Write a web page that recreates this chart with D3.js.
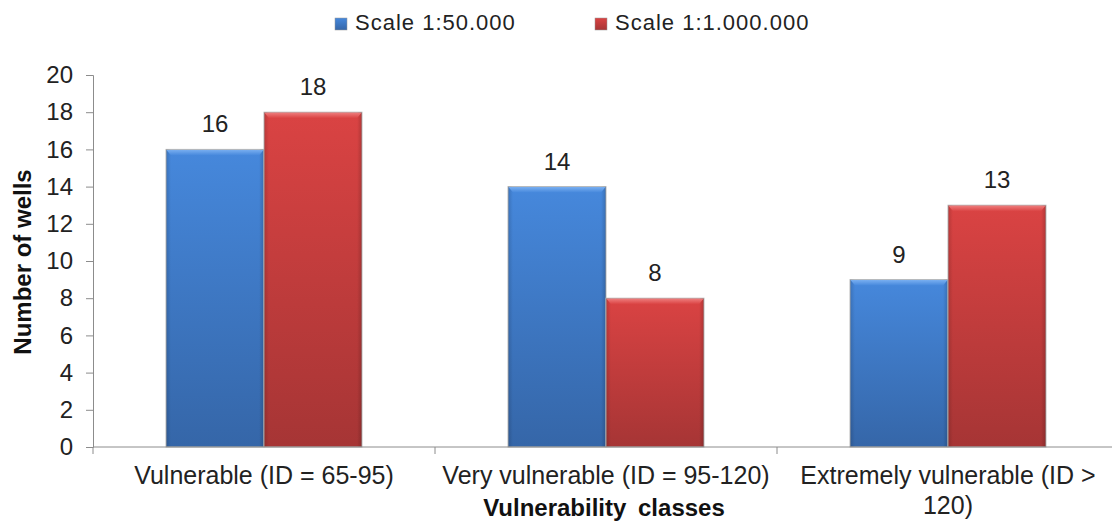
<!DOCTYPE html>
<html>
<head>
<meta charset="utf-8">
<script src="https://cdn.jsdelivr.net/npm/d3@7"></script>
<style>
  body { margin: 0; background: #fff; }
  svg { display: block; font-family: "Liberation Sans", Arial, sans-serif; }
</style>
</head>
<body>
<svg width="1112" height="522"></svg>
<script>
// data
const categories = ["Vulnerable (ID = 65-95)", "Very vulnerable (ID = 95-120)", "Extremely vulnerable (ID > 120)"];
const seriesNames = ["Scale 1:50.000", "Scale 1:1.000.000"];
const scale50k = [16, 14, 9];
const scale1m = [18, 8, 13];
const yTicks = [0, 2, 4, 6, 8, 10, 12, 14, 16, 18, 20];

const svg = d3.select("svg");
const plotLeft = 93, plotRight = 1119, plotTop = 75, plotBottom = 447;

const x = d3.scaleBand().domain(categories).range([plotLeft, plotRight]).paddingInner(0.427).paddingOuter(0.2135);
const sub = d3.scaleBand().domain(seriesNames).range([0, x.bandwidth()]);
const y = d3.scaleLinear().domain([0, 20]).range([plotBottom, plotTop]);

// gradients
const defs = svg.append("defs");
const palette = [
    { id: "g0", top: "#4688dc", bot: "#3566a8", hi: "#78aef0" },
    { id: "g1", top: "#da4343", bot: "#a63535", hi: "#ee7c7c" }
];
palette.forEach(function (p) {
    const g = defs.append("linearGradient").attr("id", p.id).attr("x1", 0).attr("y1", 0).attr("x2", 0).attr("y2", 1);
    g.append("stop").attr("offset", "0%").attr("stop-color", p.top);
    g.append("stop").attr("offset", "100%").attr("stop-color", p.bot);
    const h = defs.append("linearGradient").attr("id", p.id + "h").attr("x1", 0).attr("y1", 0).attr("x2", 0).attr("y2", 1);
    h.append("stop").attr("offset", "0%").attr("stop-color", p.hi);
    h.append("stop").attr("offset", "100%").attr("stop-color", p.top);
});
const side = defs.append("linearGradient").attr("id", "side").attr("x1", 0).attr("y1", 0).attr("x2", 1).attr("y2", 0);
side.append("stop").attr("offset", "0%").attr("stop-color", "#000").attr("stop-opacity", 0.15);
side.append("stop").attr("offset", "5%").attr("stop-color", "#000").attr("stop-opacity", 0);
side.append("stop").attr("offset", "95%").attr("stop-color", "#000").attr("stop-opacity", 0);
side.append("stop").attr("offset", "100%").attr("stop-color", "#000").attr("stop-opacity", 0.18);

const rows = [];
categories.forEach(function (c, i) {
    rows.push({ cat: c, s: 0, v: scale50k[i] });
    rows.push({ cat: c, s: 1, v: scale1m[i] });
});

// bars
const bar = svg.append("g").selectAll("g").data(rows).enter().append("g");
bar.append("rect")
    .attr("x", d => x(d.cat) + sub(seriesNames[d.s]))
    .attr("y", d => y(d.v))
    .attr("width", sub.bandwidth())
    .attr("height", d => plotBottom - y(d.v))
    .attr("fill", d => "url(#g" + d.s + ")")
    .attr("stroke", "#b8b8b8")
    .attr("stroke-width", 1);
bar.append("rect")
    .attr("x", d => x(d.cat) + sub(seriesNames[d.s]))
    .attr("y", d => y(d.v))
    .attr("width", sub.bandwidth())
    .attr("height", d => plotBottom - y(d.v))
    .attr("fill", "url(#side)");
bar.append("polygon")
    .attr("points", function (d) {
        const x0 = x(d.cat) + sub(seriesNames[d.s]), x1 = x0 + sub.bandwidth(), y0 = y(d.v);
        return [[x0 + 0.5, y0 + 0.5], [x1 - 0.5, y0 + 0.5], [x1 - 5, y0 + 6], [x0 + 5, y0 + 6]].join(" ");
    })
    .attr("fill", d => "url(#g" + d.s + "h)");

// value labels
svg.append("g").selectAll("text").data(rows).enter().append("text")
    .attr("x", d => x(d.cat) + sub(seriesNames[d.s]) + sub.bandwidth() / 2)
    .attr("y", d => y(d.v) - 17)
    .attr("text-anchor", "middle")
    .style("font-size", "24px")
    .attr("fill", "#222")
    .text(d => d.v);

// y axis
const yAxis = svg.append("g").attr("transform", "translate(" + plotLeft + ",0)")
    .call(d3.axisLeft(y).tickValues(yTicks).tickSize(7).tickPadding(13));
yAxis.select(".domain").attr("stroke", "#8c8c8c");
yAxis.selectAll(".tick line").attr("stroke", "#8c8c8c");
yAxis.selectAll(".tick text")
    .style("font-size", "24px")
    .style("font-family", "'Liberation Sans', Arial, sans-serif")
    .attr("fill", "#222");

// x axis
svg.append("line").attr("x1", plotLeft).attr("x2", 1112).attr("y1", plotBottom).attr("y2", plotBottom)
    .attr("stroke", "#8c8c8c");
svg.append("g").selectAll("line").data(categories.map((c, i) => plotLeft + x.step() * i)).enter().append("line")
    .attr("x1", d => d).attr("x2", d => d)
    .attr("y1", plotBottom).attr("y2", plotBottom + 7)
    .attr("stroke", "#8c8c8c");

// category labels (wrapped like the original)
const catLines = [["Vulnerable (ID = 65-95)"], ["Very vulnerable (ID = 95-120)"], ["Extremely vulnerable (ID >", "120)"]];
const catG = svg.append("g").selectAll("text").data(categories).enter().append("text")
    .attr("text-anchor", "middle")
    .style("font-size", "25px")
    .attr("fill", "#222");
catG.each(function (c, i) {
    const t = d3.select(this);
    catLines[i].forEach(function (line, j) {
        t.append("tspan")
            .attr("x", x(c) + x.bandwidth() / 2)
            .attr("y", 484 + j * 30)
            .text(line);
    });
});

// axis titles
svg.append("text")
    .attr("x", 604).attr("y", 516)
    .attr("text-anchor", "middle")
    .style("font-size", "24px").style("font-weight", "bold")
    .style("word-spacing", "5px")
    .attr("fill", "#111")
    .text("Vulnerability classes");
svg.append("text")
    .attr("transform", "translate(31,262) rotate(-90)")
    .attr("text-anchor", "middle")
    .style("font-size", "24px").style("font-weight", "bold")
    .attr("fill", "#111")
    .text("Number of wells");

// legend
const legendX = [335, 595];
const legend = svg.append("g").selectAll("g").data(seriesNames).enter().append("g")
    .attr("transform", (d, i) => "translate(" + legendX[i] + ",18)");
legend.append("rect").attr("width", 12).attr("height", 12)
    .attr("fill", (d, i) => "url(#g" + i + ")")
    .attr("stroke", "#999").attr("stroke-width", 0.5);
legend.append("text")
    .attr("x", 20).attr("y", 12)
    .style("font-size", "22px")
    .style("letter-spacing", "1px")
    .attr("fill", "#222")
    .text(d => d);
</script>
</body>
</html>
